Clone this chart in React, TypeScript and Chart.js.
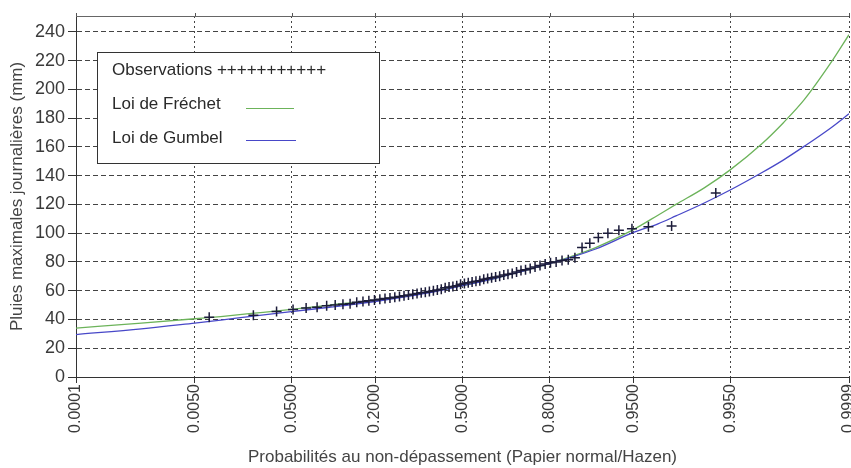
import React, { useEffect, useRef } from 'react';
import { Chart, registerables } from 'chart.js';

Chart.register(...registerables);

// ---- data ----
const xTickProbs = [0.0001, 0.005, 0.05, 0.2, 0.5, 0.8, 0.95, 0.995, 0.9999];
const xTickLabels = ['0.0001', '0.0050', '0.0500', '0.2000', '0.5000', '0.8000', '0.9500', '0.9950', '0.9999'];
const yTickValues = [0, 20, 40, 60, 80, 100, 120, 140, 160, 180, 200, 220, 240];

const obsProbs = [
  0.0074, 0.0221, 0.0368, 0.0515, 0.0662, 0.0809, 0.0956, 0.1103, 0.125, 0.1397,
  0.1544, 0.1691, 0.1838, 0.1985, 0.2132, 0.2279, 0.2426, 0.2574, 0.2721, 0.2868,
  0.3015, 0.3162, 0.3309, 0.3456, 0.3603, 0.375, 0.3897, 0.4044, 0.4191, 0.4338,
  0.4485, 0.4632, 0.4779, 0.4926, 0.5074, 0.5221, 0.5368, 0.5515, 0.5662, 0.5809,
  0.5956, 0.6103, 0.625, 0.6397, 0.6544, 0.6691, 0.6838, 0.6985, 0.7132, 0.7279,
  0.7426, 0.7574, 0.7721, 0.7868, 0.8015, 0.8162, 0.8309, 0.8456, 0.8603, 0.875,
  0.8897, 0.9044, 0.9191, 0.9338, 0.9485, 0.9632, 0.9779, 0.9926,
];
const obsValues = [
  41.5, 43, 45.5, 47, 48, 48.5, 49.5, 50, 50.5, 51,
  52, 52.5, 53, 53.5, 54, 54.5, 55, 55.5, 56, 56.5,
  57, 57.5, 58, 58.5, 59, 59.5, 60, 60.5, 61, 62,
  62.5, 63, 63.5, 64.5, 65, 65.5, 66, 66.5, 67, 68,
  68.5, 69, 69.5, 70, 71, 71.5, 72, 73, 74, 74.5,
  75.5, 76.5, 77.5, 78.5, 79.5, 80, 81, 81.5, 83, 90,
  93, 97, 100, 102, 103, 104.5, 105, 128,
];

const curveProbs = [
  0.0001, 0.001, 0.005, 0.01, 0.02, 0.05, 0.1, 0.2, 0.3, 0.4, 0.5, 0.6, 0.7, 0.8,
  0.85, 0.9, 0.95, 0.97, 0.98, 0.99, 0.995, 0.998, 0.999, 0.9995, 0.9998, 0.9999,
];
const frechetValues = [
  34, 37.5, 40.5, 42, 44, 47, 50, 53.5, 56.5, 60, 63.5, 67.5, 72.5, 79,
  83.5, 90, 102.5, 112.5, 120, 131.5, 144, 162, 177, 193, 218, 238,
];
const gumbelValues = [
  29.5, 33.5, 37.5, 39.5, 42, 45.5, 48.5, 52.5, 56, 59.5, 63.5, 67.5, 72.5, 79,
  83, 89, 100.5, 106.5, 112, 121, 130, 142, 151, 160.5, 173, 183,
];

// normal quantile (normal probability paper axis)
function probit(p: number): number {
  const a = [-3.969683028665376e1, 2.209460984245205e2, -2.759285104469687e2, 1.38357751867269e2, -3.066479806614716e1, 2.506628277459239];
  const b = [-5.447609879822406e1, 1.615858368580409e2, -1.556989798598866e2, 6.680131188771972e1, -1.328068155288572e1];
  const c = [-7.784894002430293e-3, -3.223964580411365e-1, -2.400758277161838, -2.549732539343734, 4.374664141464968, 2.938163982698783];
  const d = [7.784695709041462e-3, 3.224671290700398e-1, 2.445134137142996, 3.754408661907416];
  const plow = 0.02425;
  if (p < plow) {
    const q = Math.sqrt(-2 * Math.log(p));
    return (((((c[0] * q + c[1]) * q + c[2]) * q + c[3]) * q + c[4]) * q + c[5]) / ((((d[0] * q + d[1]) * q + d[2]) * q + d[3]) * q + 1);
  }
  if (p > 1 - plow) {
    const q = Math.sqrt(-2 * Math.log(1 - p));
    return -(((((c[0] * q + c[1]) * q + c[2]) * q + c[3]) * q + c[4]) * q + c[5]) / ((((d[0] * q + d[1]) * q + d[2]) * q + d[3]) * q + 1);
  }
  const q = p - 0.5;
  const r = q * q;
  return ((((((a[0] * r + a[1]) * r + a[2]) * r + a[3]) * r + a[4]) * r + a[5]) * q) / (((((b[0] * r + b[1]) * r + b[2]) * r + b[3]) * r + b[4]) * r + 1);
}

const FONT = '"Liberation Sans", Arial, sans-serif';
const FRECHET_COLOR = '#6cb35a';
const GUMBEL_COLOR = '#4848c8';
const OBS_COLOR = '#1c1c3a';

const frameAndLegend = {
  id: 'frameAndLegend',
  beforeDatasetsDraw(chart: any) {
    const { ctx, chartArea } = chart;
    ctx.save();
    ctx.strokeStyle = '#666';
    ctx.lineWidth = 1;
    ctx.beginPath();
    ctx.moveTo(chartArea.left, chartArea.top + 0.5);
    ctx.lineTo(chartArea.right, chartArea.top + 0.5);
    ctx.stroke();
    const xs = chart.scales.x;
    ctx.strokeStyle = '#555';
    xs.ticks.forEach((t: any) => {
      const px = Math.round(xs.getPixelForValue(t.value)) + 0.5;
      ctx.beginPath();
      ctx.moveTo(px, chartArea.top - 3);
      ctx.lineTo(px, chartArea.top);
      ctx.stroke();
    });
    ctx.restore();
  },
  afterDraw(chart: any) {
    const { ctx, chartArea } = chart;
    const left = chartArea.left + 21;
    const top = chartArea.top + 36;
    const w = 282;
    const h = 111;
    ctx.save();
    ctx.fillStyle = '#fff';
    ctx.fillRect(left, top, w, h);
    ctx.strokeStyle = '#333';
    ctx.lineWidth = 1;
    ctx.strokeRect(left + 0.5, top + 0.5, w, h);
    ctx.fillStyle = '#2a2a2a';
    ctx.font = `17px ${FONT}`;
    ctx.textBaseline = 'middle';
    ctx.textAlign = 'left';
    ctx.fillText('Observations +++++++++++', left + 15, top + 18);
    ctx.fillText('Loi de Fréchet', left + 15, top + 52);
    ctx.fillText('Loi de Gumbel', left + 15, top + 86);
    ctx.lineWidth = 1;
    ctx.strokeStyle = FRECHET_COLOR;
    ctx.beginPath();
    ctx.moveTo(left + 149, top + 56.5);
    ctx.lineTo(left + 197, top + 56.5);
    ctx.stroke();
    ctx.strokeStyle = GUMBEL_COLOR;
    ctx.beginPath();
    ctx.moveTo(left + 149, top + 88.5);
    ctx.lineTo(left + 199, top + 88.5);
    ctx.stroke();
    ctx.restore();
  },
};

export default function App() {
  const canvasRef = useRef<HTMLCanvasElement | null>(null);

  useEffect(() => {
    if (!canvasRef.current) return;
    const chart = new Chart(canvasRef.current, {
      type: 'scatter',
      data: {
        datasets: [
          {
            label: 'Observations',
            data: obsProbs.map((p, i) => ({ x: probit(p), y: obsValues[i] })),
            showLine: false,
            pointStyle: 'cross',
            pointRadius: 5,
            pointBorderColor: OBS_COLOR,
            pointBackgroundColor: OBS_COLOR,
            pointBorderWidth: 1.5,
          },
          {
            label: 'Loi de Gumbel',
            data: curveProbs.map((p, i) => ({ x: probit(p), y: gumbelValues[i] })),
            showLine: true,
            borderColor: GUMBEL_COLOR,
            borderWidth: 1.3,
            pointRadius: 0,
            cubicInterpolationMode: 'monotone',
          },
          {
            label: 'Loi de Fréchet',
            data: curveProbs.map((p, i) => ({ x: probit(p), y: frechetValues[i] })),
            showLine: true,
            borderColor: FRECHET_COLOR,
            borderWidth: 1.3,
            pointRadius: 0,
            cubicInterpolationMode: 'monotone',
          },
        ],
      } as any,
      options: {
        animation: false,
        responsive: true,
        maintainAspectRatio: false,
        layout: { padding: { left: 0, top: 16, right: 31, bottom: 0 } },
        plugins: { legend: { display: false }, tooltip: { enabled: false } },
        scales: {
          x: {
            type: 'linear',
            min: probit(xTickProbs[0]),
            max: probit(xTickProbs[xTickProbs.length - 1]),
            afterBuildTicks: (s: any) => {
              s.ticks = xTickProbs.map((p) => ({ value: probit(p) }));
            },
            afterFit: (s: any) => {
              s.height = 91;
            },
            ticks: {
              autoSkip: false,
              minRotation: 90,
              maxRotation: 90,
              padding: 1,
              color: '#3a3a3a',
              font: { family: FONT, size: 16 },
              callback: (_v: any, i: number) => xTickLabels[i],
            },
            grid: {
              color: '#444',
              lineWidth: 1,
              tickLength: 6,
              tickColor: '#333',
              tickBorderDash: [],
            },
            border: { display: true, color: '#333', width: 1, dash: [2, 3] },
            title: {
              display: true,
              text: 'Probabilités au non-dépassement (Papier normal/Hazen)',
              color: '#444',
              font: { family: FONT, size: 17 },
              padding: { top: 0, bottom: 0 },
            },
          },
          y: {
            type: 'linear',
            min: 0,
            max: 251,
            afterBuildTicks: (s: any) => {
              s.ticks = yTickValues.map((v) => ({ value: v }));
            },
            afterFit: (s: any) => {
              s.width = 76;
            },
            ticks: {
              autoSkip: false,
              padding: 3,
              color: '#3a3a3a',
              font: { family: FONT, size: 18 },
            },
            grid: {
              color: '#444',
              lineWidth: 1,
              tickLength: 8,
              tickColor: '#333',
              tickBorderDash: [],
            },
            border: { display: true, color: '#333', width: 1, dash: [5, 3] },
            title: {
              display: true,
              text: 'Pluies maximales journalières (mm)',
              color: '#444',
              font: { family: FONT, size: 17 },
              padding: { top: 7, bottom: 0 },
            },
          },
        },
      } as any,
      plugins: [frameAndLegend],
    });
    return () => chart.destroy();
  }, []);

  return (
    <div style={{ position: 'fixed', left: 0, top: 0, width: 851, height: 468, overflow: 'hidden', background: '#fff' }}>
      <div style={{ position: 'relative', width: 880, height: 468 }}>
        <canvas ref={canvasRef} />
      </div>
    </div>
  );
}
